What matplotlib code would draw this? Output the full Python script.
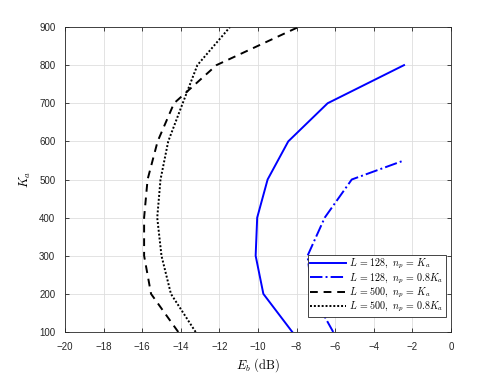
import matplotlib
matplotlib.use("Agg")
import matplotlib.pyplot as plt

plt.rcParams['font.family'] = ['Liberation Sans', 'DejaVu Sans']
plt.rcParams['mathtext.fontset'] = 'cm'

# K_a values (y) and Eb in dB (x)
ka = [100, 200, 300, 400, 500, 600, 700, 800, 900]
ka_128_08 = [100, 200, 300, 400, 500, 550]

eb_128 = [-8.22, -9.72, -10.12, -10.04, -9.5, -8.43, -6.39, -2.43]
eb_128_08 = [-6.1, -7.2, -7.43, -6.54, -5.14, -2.43]
eb_500 = [-14.13, -15.54, -15.9, -15.9, -15.72, -15.2, -14.35, -12.15, -7.9]
eb_500_08 = [-13.23, -14.51, -15.0, -15.22, -15.05, -14.65, -13.9, -13.14, -11.45]

labels = [r"$L\,=\,128,\ n_p\,=\,K_a$",
          r"$L\,=\,128,\ n_p\,=\,0.8K_a$",
          r"$L\,=\,500,\ n_p\,=\,K_a$",
          r"$L\,=\,500,\ n_p\,=\,0.8K_a$"]

fig = plt.figure(figsize=(4.98, 3.74), dpi=100)
ax = fig.add_axes([0.1305, 0.1123, 0.775, 0.8155])

ax.plot(eb_128, ka[:len(eb_128)], color='#0000ff', linestyle='-', lw=1.4, label=labels[0])
ax.plot(eb_128_08, ka_128_08, color='#0000ff', linestyle='-.', lw=1.4, label=labels[1])
ax.plot(eb_500, ka, color='black', linestyle='--', lw=1.4, dashes=(4, 3), label=labels[2])
ax.plot(eb_500_08, ka, color='black', linestyle=':', lw=1.4, dashes=(1, 1), label=labels[3])

ax.set_xlim(-20, 0)
ax.set_ylim(100, 900)
ax.set_xticks(range(-20, 1, 2))
ax.set_yticks(range(100, 901, 100))
ax.grid(True, color='#dedede', lw=0.6)
ax.set_axisbelow(True)

axcol = '#262626'
for s in ax.spines.values():
    s.set_color(axcol)
    s.set_linewidth(0.6)
ax.tick_params(direction='in', top=True, right=True, length=3, width=0.6,
               colors=axcol, labelsize=7)
ax.tick_params(axis='x', pad=7)
ax.tick_params(axis='y', pad=7)

ax.set_xlabel(r"$E_b\ \mathrm{(dB)}$", fontsize=9, labelpad=3)
ax.set_ylabel(r"$K_a$", fontsize=9, labelpad=4)

leg = ax.legend(loc='lower right', bbox_to_anchor=(0.988, 0.05), borderaxespad=0,
                fontsize=7.2, handlelength=3.6, handletextpad=0.3, borderpad=0.25,
                labelspacing=0.0, fancybox=False, framealpha=1)
leg.get_frame().set_edgecolor(axcol)
leg.get_frame().set_linewidth(0.6)

fig.savefig("out.png", dpi=100)
